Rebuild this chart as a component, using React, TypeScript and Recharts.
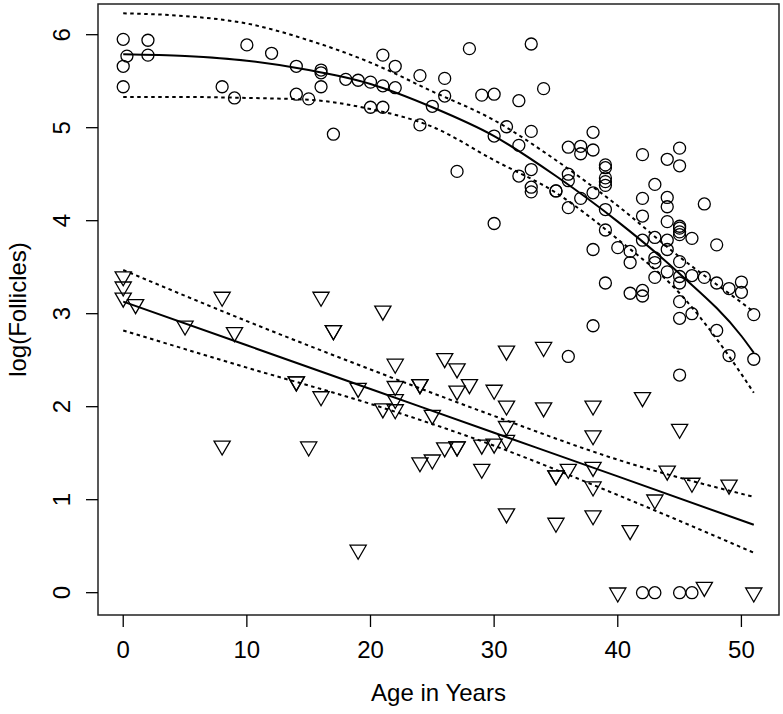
import { ComposedChart, Scatter, Line, XAxis, YAxis, ReferenceArea } from "recharts";

// total follicles (circles)
const circleAges = [
  0, 0, 0, 0.3, 2, 2, 8, 9, 10, 12, 14, 14, 15, 16, 16, 16, 17, 18, 19, 20, 20,
  21, 21, 21, 22, 22, 24, 24, 25, 26, 26, 27, 28, 29, 30, 30, 30, 31, 32, 32, 32,
  33, 33, 33, 33, 33, 34, 35, 35, 36, 36, 36, 36, 36, 37, 37, 37, 38, 38, 38, 38, 38,
  39, 39, 39, 39, 39, 39, 39, 39, 40, 41, 41, 41, 42, 42, 42, 42, 42, 42, 42,
  43, 43, 43, 43, 43, 43, 44, 44, 44, 44, 44, 44, 44,
  45, 45, 45, 45, 45, 45, 45, 45, 45, 45, 45, 45, 45, 46, 46, 46, 46, 47, 47,
  48, 48, 48, 49, 49, 50, 50, 51, 51,
];
const circleValues = [
  5.95, 5.66, 5.44, 5.77, 5.94, 5.78, 5.44, 5.32, 5.89, 5.8, 5.66, 5.36, 5.31, 5.62, 5.59, 5.44, 4.93, 5.52, 5.51, 5.49, 5.22,
  5.78, 5.45, 5.22, 5.66, 5.43, 5.56, 5.03, 5.23, 5.53, 5.34, 4.53, 5.85, 5.35, 5.36, 4.91, 3.97, 5.01, 5.29, 4.81, 4.48,
  5.9, 4.96, 4.55, 4.36, 4.31, 5.42, 4.32, 4.32, 4.79, 4.5, 4.43, 4.14, 2.54, 4.8, 4.72, 4.24, 4.95, 4.76, 4.3, 3.69, 2.87,
  4.6, 4.57, 4.46, 4.42, 4.38, 4.12, 3.9, 3.33, 3.71, 3.67, 3.55, 3.22, 4.71, 4.24, 4.05, 3.79, 3.25, 3.19, 0,
  4.39, 3.82, 3.6, 3.55, 3.39, 0, 4.66, 4.25, 4.15, 3.99, 3.79, 3.69, 3.45,
  4.78, 4.59, 3.94, 3.92, 3.88, 3.85, 3.56, 3.4, 3.33, 3.13, 2.95, 2.34, 0, 3.81, 3.41, 3.0, 0, 4.18, 3.39,
  3.74, 3.33, 2.82, 3.27, 2.55, 3.34, 3.23, 2.99, 2.51,
];

// primordial follicles (triangles)
const triAges = [
  0, 0, 0, 1, 5, 8, 8, 9, 14, 14, 15, 16, 16, 17, 17, 19, 19, 21, 21, 22, 22, 22, 22,
  24, 24, 24, 25, 25, 26, 26, 27, 27, 27, 27, 28, 29, 29, 30, 30, 31, 31, 31, 31, 31,
  34, 34, 35, 35, 35, 36, 38, 38, 38, 38, 38, 40, 41, 42, 43, 44, 45, 46, 47, 49, 51,
];
const triValues = [
  3.4, 3.29, 3.17, 3.1, 2.87, 3.18, 1.58, 2.8, 2.27, 2.27, 1.57, 3.18, 2.11, 2.82, 2.82, 2.2, 0.46, 3.03, 1.98, 2.46, 2.22, 2.08, 1.97,
  2.24, 2.24, 1.4, 1.91, 1.43, 2.52, 1.56, 2.41, 2.17, 1.57, 1.57, 2.24, 1.59, 1.33, 2.18, 1.6, 2.6, 2.01, 1.79, 1.64, 0.85,
  2.64, 1.99, 1.26, 1.26, 0.75, 1.33, 2.01, 1.69, 1.35, 1.14, 0.83, 0, 0.67, 2.1, 1.0, 1.31, 1.76, 1.18, 0.06, 1.16, 0,
];

// fitted curve and band for circles
const circleFitAges = [0, 5, 10, 15, 20, 25, 30, 35, 40, 45, 50, 51];
const circleFit = [5.79, 5.77, 5.72, 5.62, 5.47, 5.22, 4.91, 4.48, 3.99, 3.43, 2.76, 2.58];
const circleUpper = [6.23, 6.2, 6.12, 5.94, 5.7, 5.39, 5.08, 4.65, 4.16, 3.61, 3.12, 3.02];
const circleLower = [5.33, 5.33, 5.32, 5.3, 5.2, 5.01, 4.65, 4.3, 3.8, 3.22, 2.35, 2.15];

// fitted line and band for triangles
const triFitAges = [0, 10, 20, 30, 40, 51];
const triFit = [3.13, 2.66, 2.19, 1.72, 1.25, 0.73];
const triUpper = [3.47, 2.92, 2.4, 1.9, 1.43, 1.03];
const triLower = [2.82, 2.42, 2.03, 1.58, 1.05, 0.43];

const xTicks = [0, 10, 20, 30, 40, 50];
const yTicks = [0, 1, 2, 3, 4, 5, 6];

const pts = (xs: number[], ys: number[]) => xs.map((x, i) => ({ x, y: ys[i] }));

const FONT = "'Liberation Sans', Arial, sans-serif";

const CircleMark = (p: any) => (
  <circle cx={p.cx} cy={p.cy} r={6} fill="none" stroke="#000" strokeWidth={1.3} />
);

const TriMark = (p: any) => (
  <path
    d={`M${p.cx - 8.1},${p.cy - 4.7} L${p.cx + 8.1},${p.cy - 4.7} L${p.cx},${p.cy + 9.3} Z`}
    fill="none"
    stroke="#000"
    strokeWidth={1.3}
  />
);

const XTick = ({ x, y, payload }: any) => (
  <text x={x} y={y} dy={29} textAnchor="middle" fontSize={24} fill="#000" fontFamily={FONT}>
    {payload.value}
  </text>
);

const YTick = ({ x, y, payload }: any) => (
  <text
    x={x - 14}
    y={y}
    textAnchor="middle"
    fontSize={24}
    fill="#000"
    fontFamily={FONT}
    transform={`rotate(-90, ${x - 14}, ${y})`}
  >
    {payload.value}
  </text>
);

export default function App() {
  const lineProps = { stroke: "#000", dot: false, isAnimationActive: false, type: "monotone" as const };
  return (
    <div style={{ position: "absolute", left: 0, top: 0, background: "#fff" }}>
      <ComposedChart
        width={783}
        height={714}
        margin={{ top: 4, right: 4, bottom: 0, left: 0 }}
        style={{ fontFamily: FONT }}
      >
        <XAxis
          dataKey="x"
          type="number"
          domain={[-2.04, 53.04]}
          allowDataOverflow
          ticks={xTicks}
          interval={0}
          height={99}
          axisLine={false}
          tickSize={12}
          tickMargin={2}
          tickLine={{ stroke: "#000", strokeWidth: 1.3 }}
          tick={XTick}
          label={() => (
            <text x={438.5} y={701} textAnchor="middle" fontSize={24} fill="#000" fontFamily={FONT}>
              Age in Years
            </text>
          )}
        />
        <YAxis
          type="number"
          domain={[-0.24, 6.33]}
          allowDataOverflow
          ticks={yTicks}
          interval={0}
          width={98}
          axisLine={false}
          tickSize={12}
          tickMargin={2}
          tickLine={{ stroke: "#000", strokeWidth: 1.3 }}
          tick={YTick}
          label={() => (
            <text
              x={26}
              y={309.5}
              textAnchor="middle"
              fontSize={24}
              fill="#000"
              fontFamily={FONT}
              transform="rotate(-90, 26, 309.5)"
            >
              log(Follicles)
            </text>
          )}
        />
        <ReferenceArea
          x1={-2.04}
          x2={53.04}
          y1={-0.24}
          y2={6.33}
          fill="none"
          fillOpacity={0}
          stroke="#222"
          strokeWidth={1.5}
          ifOverflow="visible"
        />
        <Line data={pts(circleFitAges, circleFit)} dataKey="y" strokeWidth={2} {...lineProps} />
        <Line data={pts(circleFitAges, circleUpper)} dataKey="y" strokeWidth={2} strokeDasharray="3.5 3.5" {...lineProps} />
        <Line data={pts(circleFitAges, circleLower)} dataKey="y" strokeWidth={2} strokeDasharray="3.5 3.5" {...lineProps} />
        <Line data={pts(triFitAges, triFit)} dataKey="y" strokeWidth={2} {...lineProps} />
        <Line data={pts(triFitAges, triUpper)} dataKey="y" strokeWidth={2} strokeDasharray="3.5 3.5" {...lineProps} />
        <Line data={pts(triFitAges, triLower)} dataKey="y" strokeWidth={2} strokeDasharray="3.5 3.5" {...lineProps} />
        <Scatter data={pts(circleAges, circleValues)} dataKey="y" shape={CircleMark} isAnimationActive={false} />
        <Scatter data={pts(triAges, triValues)} dataKey="y" shape={TriMark} isAnimationActive={false} />
      </ComposedChart>
    </div>
  );
}
